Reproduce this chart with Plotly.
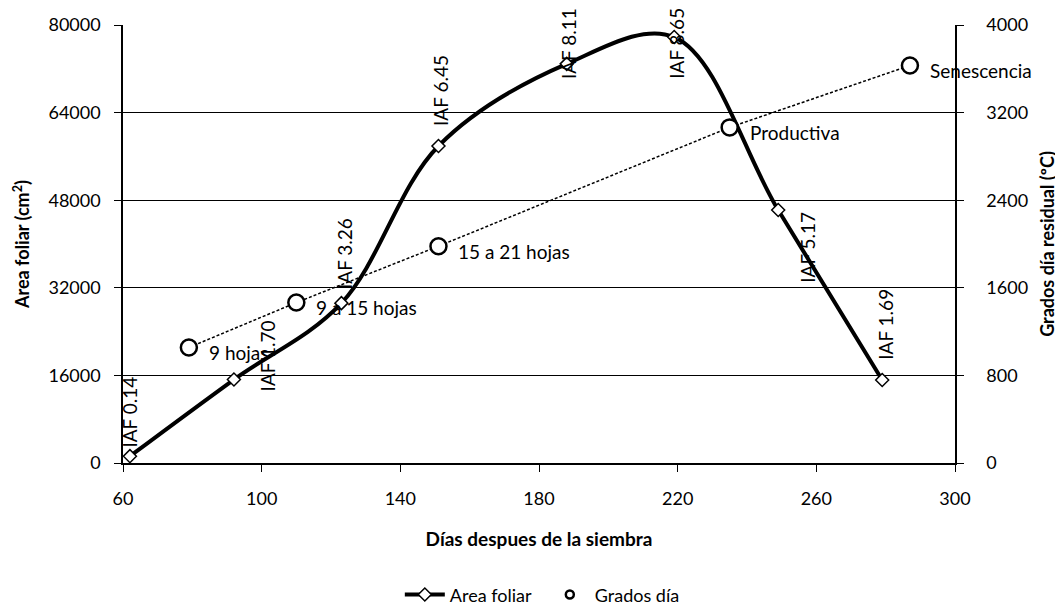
import plotly.graph_objects as go

# Area foliar (left axis)
dias_af = [62, 92, 123, 151, 188, 219, 249, 279]
area_foliar = [1250, 15250, 29200, 57900, 72900, 77800, 46200, 15150]
iaf_labels = ["IAF 0.14", "IAF 1.70", "IAF 3.26", "IAF 6.45", "IAF 8.11", "IAF 8.65", "IAF 5.17", "IAF 1.69"]

# Grados día (right axis)
dias_gd = [79, 110, 151, 235, 287]
grados_dia = [1055, 1465, 1980, 3065, 3630]
etapas = ["9 hojas", "9 a 15 hojas", "15 a 21 hojas", "Productiva", "Senescencia"]

# Axis ticks
x_ticks = [60, 100, 140, 180, 220, 260, 300]
y_ticks = [0, 16000, 32000, 48000, 64000, 80000]
y2_ticks = [0, 800, 1600, 2400, 3200, 4000]

FONT = "Lato, 'Open Sans', sans-serif"

fig = go.Figure()

fig.add_trace(go.Scatter(
    x=dias_af, y=area_foliar, name="Area foliar", mode="lines+markers",
    line=dict(color="black", width=4, shape="spline", smoothing=1),
    marker=dict(symbol="diamond", size=10, color="white", line=dict(color="black", width=1.5)),
    yaxis="y",
))

fig.add_trace(go.Scatter(
    x=dias_gd, y=grados_dia, name="Grados día", mode="lines+markers",
    line=dict(color="black", width=1.5, dash="3px,2px"),
    marker=dict(symbol="circle", size=16, color="white", line=dict(color="black", width=2.5)),
    yaxis="y2", showlegend=False,
))
# legend entry for Grados día (marker only)
fig.add_trace(go.Scatter(
    x=[None], y=[None], name="Grados día", mode="markers",
    marker=dict(symbol="circle", size=8, color="white", line=dict(color="black", width=2.5)),
    yaxis="y2",
))

# IAF labels: (xshift, yshift, xanchor, yanchor)
iaf_pos = [
    (0, 7, "center", "bottom"),
    (34, 24, "center", "middle"),
    (3, 12, "center", "bottom"),
    (2, 18, "center", "bottom"),
    (2, -17, "center", "bottom"),
    (2, -44, "center", "bottom"),
    (29, 0, "center", "top"),
    (3, 18, "center", "bottom"),
]
annotations = []
for xv, yv, txt, (xs, ys, xa, ya) in zip(dias_af, area_foliar, iaf_labels, iaf_pos):
    annotations.append(dict(
        x=xv, y=yv, xref="x", yref="y", text=txt, showarrow=False,
        textangle=-90, xanchor=xa, yanchor=ya, xshift=xs, yshift=ys,
        font=dict(family=FONT, size=19, color="black"),
    ))
for xv, yv, txt in zip(dias_gd, grados_dia, etapas):
    annotations.append(dict(
        x=xv, y=yv, xref="x", yref="y2", text=txt, showarrow=False,
        xanchor="left", yanchor="middle", xshift=18, yshift=-5,
        font=dict(family=FONT, size=19, color="black"),
    ))

fig.update_layout(
    width=1055, height=597,
    margin=dict(l=115, r=108, t=17, b=142),
    paper_bgcolor="white", plot_bgcolor="white",
    font=dict(family=FONT, size=18, color="black"),
    showlegend=True,
    legend=dict(orientation="h", x=0.507, xanchor="center", yref="container", y=0.017, yanchor="middle",
                font=dict(family=FONT, size=18), itemwidth=40, traceorder="normal", entrywidth=90),
    xaxis=dict(range=[60, 300], tickvals=x_ticks, ticktext=[str(v) for v in x_ticks],
               showline=True, linecolor="black", linewidth=1.5, showgrid=False, zeroline=False,
               ticks="outside", ticklen=7, tickcolor="black", ticklabelstandoff=12, automargin=False,
               tickfont=dict(family=FONT, size=18, color="black"),
               title=dict(text="<b>Días despues de la siembra</b>", standoff=24,
                          font=dict(family=FONT, size=19, color="black"))),
    yaxis=dict(range=[0, 80000], tickvals=y_ticks, ticktext=[str(v) for v in y_ticks],
               showline=True, linecolor="black", linewidth=1.5, showgrid=True, gridcolor="black", gridwidth=1.2,
               zeroline=False, ticks="outside", ticklen=7, tickcolor="black", ticklabelstandoff=10, automargin=False,
               tickfont=dict(family=FONT, size=18, color="black"),
               title=dict(text="<b>Area foliar (cm<sup>2</sup>)</b>", standoff=14,
                          font=dict(family=FONT, size=18, color="black"))),
    yaxis2=dict(range=[0, 4000], tickvals=y2_ticks, ticktext=[str(v) for v in y2_ticks],
                overlaying="y", side="right",
                showline=True, linecolor="black", linewidth=1.5, showgrid=False, zeroline=False,
                ticks="outside", ticklen=7, tickcolor="black", ticklabelstandoff=19, automargin=False,
                tickfont=dict(family=FONT, size=18, color="black"),
                title=dict(text="<b>Grados día residual (ºC)</b>", standoff=14,
                           font=dict(family=FONT, size=18, color="black"))),
    annotations=annotations,
)

fig.write_html("out.html")
